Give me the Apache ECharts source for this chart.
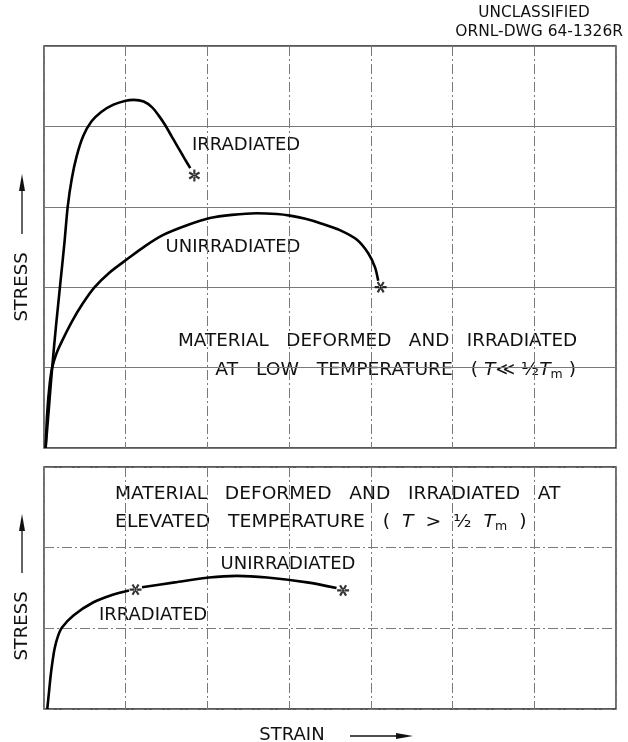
<!DOCTYPE html>
<html lang="en">
<head>
<meta charset="UTF-8">
<title>Stress-strain, irradiated vs unirradiated</title>
<script src="https://cdn.jsdelivr.net/npm/echarts@6/dist/echarts.min.js"></script>
<style>
  html, body { margin: 0; padding: 0; background: #fff; }
  #main { width: 628px; height: 742px; }
</style>
</head>
<body>
<div id="main"></div>
<script type="text/javascript">
// strain in grid divisions, stress in grid divisions (arbitrary units)
// upper panel: low temperature
var lowIrradiated = [[0.02,0],[0.06,0.5],[0.1,1.0],[0.15,1.55],[0.2,2.05],[0.25,2.55],[0.29,3.0],[0.34,3.35],
  [0.4,3.63],[0.48,3.88],[0.58,4.06],[0.7,4.18],[0.85,4.27],[1.0,4.32],[1.1,4.33],[1.22,4.31],[1.32,4.24],
  [1.4,4.14],[1.48,4.02],[1.56,3.88],[1.64,3.74],[1.72,3.6],[1.79,3.48]];
var lowUnirradiated = [[0.02,0],[0.04,0.45],[0.07,0.8],[0.1,1.0],[0.15,1.17],[0.22,1.33],[0.34,1.57],[0.47,1.79],
  [0.62,2.0],[0.8,2.18],[1.02,2.35],[1.25,2.52],[1.46,2.65],[1.75,2.77],[2.03,2.86],[2.3,2.9],[2.6,2.92],
  [2.85,2.91],[3.01,2.89],[3.2,2.85],[3.4,2.79],[3.62,2.71],[3.83,2.59],[3.97,2.42],[4.05,2.25],[4.09,2.08]];
var lowFracture = [[1.84,3.39]];
var lowFracture2 = [[4.12,2.0]];

// lower panel: elevated temperature
var highShared = [[0.04,0],[0.06,0.2],[0.08,0.4],[0.1,0.56],[0.13,0.75],[0.17,0.9],[0.22,1.01],[0.36,1.16],
  [0.6,1.32],[0.85,1.42],[1.04,1.47]];
var highUnirradiated = [[1.2,1.51],[1.6,1.57],[2.02,1.63],[2.36,1.65],[2.73,1.63],[3.22,1.57],[3.58,1.5]];
var highFracture = [[1.12,1.48],[3.66,1.47]];

var FONT = 'DejaVu Sans';
var LBL = 18;

// six-armed asterisk, one with a vertical arm and one with a horizontal arm
var starV = 'path://M-0.18,-1 L0.18,-1 L0.18,1 L-0.18,1 Z M0.776,0.656 L0.956,0.344 L-0.776,-0.656 L-0.956,-0.344 Z M-0.956,0.344 L-0.776,0.656 L0.956,-0.344 L0.776,-0.656 Z';
var starH = 'path://M-1,-0.18 L1,-0.18 L1,0.18 L-1,0.18 Z M0.344,0.956 L0.656,0.776 L-0.344,-0.956 L-0.656,-0.776 Z M-0.656,0.776 L-0.344,0.956 L0.656,-0.776 L0.344,-0.956 Z';

var chart = echarts.init(document.getElementById('main'));

function xAx(gi) {
  return {
    gridIndex: gi, type: 'value', min: 0, max: 7, interval: 1,
    axisLine: { show: false }, axisTick: { show: false }, axisLabel: { show: false },
    splitLine: { show: true, lineStyle: { color: '#7a7a7a', width: 1, type: [10, 3, 2, 3] } }
  };
}
function yAx(gi, max, solid) {
  return {
    gridIndex: gi, type: 'value', min: 0, max: max, interval: 1,
    axisLine: { show: false }, axisTick: { show: false }, axisLabel: { show: false },
    splitLine: { show: true, lineStyle: { color: '#7a7a7a', width: 1, type: solid ? 'solid' : [10, 3, 2, 3] } }
  };
}
function curve(data, xi) {
  return {
    type: 'line', xAxisIndex: xi, yAxisIndex: xi, data: data, smooth: 0.3,
    showSymbol: false, silent: true, animation: false,
    lineStyle: { color: '#000', width: 2.6 }
  };
}
function stars(data, xi, sym) {
  return {
    type: 'scatter', xAxisIndex: xi, yAxisIndex: xi, data: data, symbol: sym,
    symbolSize: 12, symbolKeepAspect: true, silent: true, animation: false,
    itemStyle: { color: '#000' }
  };
}
function txt(s, x, y, align, extra, sx) {
  var st = { text: s, x: 0, y: 0, font: LBL + 'px "' + FONT + '"', fill: '#111',
    align: align || 'center', verticalAlign: 'middle' };
  if (extra) { for (var k in extra) st[k] = extra[k]; }
  return { type: 'text', x: x, y: y, scaleX: sx || 1, silent: true, style: st };
}
var rich = {
  i: { fontFamily: FONT, fontSize: LBL, fontStyle: 'italic', color: '#111' },
  n: { fontFamily: FONT, fontSize: LBL, color: '#111' },
  s: { fontFamily: FONT, fontSize: 12, color: '#111', padding: [9, 0, 0, 0] }
};

chart.setOption({
  animation: false,
  grid: [
    { left: 44, top: 46, width: 572, height: 402, show: true, borderColor: '#222', borderWidth: 1.3, backgroundColor: 'transparent' },
    { left: 44, top: 467, width: 572, height: 242, show: true, borderColor: '#222', borderWidth: 1.3, backgroundColor: 'transparent' }
  ],
  xAxis: [xAx(0), xAx(1)],
  yAxis: [yAx(0, 5, true), yAx(1, 3, false)],
  series: [
    curve(lowIrradiated, 0),
    curve(lowUnirradiated, 0),
    stars(lowFracture, 0, starV),
    stars(lowFracture2, 0, starH),
    curve(highShared, 1),
    curve(highUnirradiated, 1),
    stars(highFracture, 1, starH)
  ],
  graphic: [
    txt('UNCLASSIFIED', 534, 13, 'center', { font: '15px "' + FONT + '"' }, 1.02),
    txt('ORNL-DWG 64-1326R', 623, 32, 'right', { font: '15px "' + FONT + '"' }, 1.03),

    txt('IRRADIATED', 246, 145),
    txt('UNIRRADIATED', 233, 247),
    txt('MATERIAL   DEFORMED   AND   IRRADIATED', 178, 341, 'left', null, 1.02),
    txt('{n|AT   LOW   TEMPERATURE   ( }{i|T}{n|≪ ½}{i|T}{s|m}{n| )}', 576, 370, 'right', { rich: rich }, 1.04),

    txt('MATERIAL   DEFORMED   AND   IRRADIATED   AT', 115, 494, 'left', null, 1.035),
    txt('{n|ELEVATED   TEMPERATURE   (  }{i|T}{n|  >  ½  }{i|T}{s|m}{n|  )}', 115, 522, 'left', { rich: rich }, 1.045),
    txt('UNIRRADIATED', 288, 564),
    txt('IRRADIATED', 153, 615),

    // axis titles with arrows
    { type: 'text', x: 22, y: 287, rotation: Math.PI / 2, silent: true,
      style: { text: 'STRESS', font: LBL + 'px "' + FONT + '"', fill: '#111', align: 'center', verticalAlign: 'middle' } },
    { type: 'line', silent: true, shape: { x1: 22, y1: 234, x2: 22, y2: 186 }, style: { stroke: '#111', lineWidth: 1.3 } },
    { type: 'polygon', silent: true, shape: { points: [[22, 174], [19, 191], [25, 191]] }, style: { fill: '#111' } },

    { type: 'text', x: 22, y: 626, rotation: Math.PI / 2, silent: true,
      style: { text: 'STRESS', font: LBL + 'px "' + FONT + '"', fill: '#111', align: 'center', verticalAlign: 'middle' } },
    { type: 'line', silent: true, shape: { x1: 22, y1: 573, x2: 22, y2: 527 }, style: { stroke: '#111', lineWidth: 1.3 } },
    { type: 'polygon', silent: true, shape: { points: [[22, 514], [19, 531], [25, 531]] }, style: { fill: '#111' } },

    txt('STRAIN', 292, 735),
    { type: 'line', silent: true, shape: { x1: 350, y1: 736, x2: 400, y2: 736 }, style: { stroke: '#111', lineWidth: 1.3 } },
    { type: 'polygon', silent: true, shape: { points: [[413, 736], [396, 733], [396, 739]] }, style: { fill: '#111' } }
  ]
});
</script>
</body>
</html>
